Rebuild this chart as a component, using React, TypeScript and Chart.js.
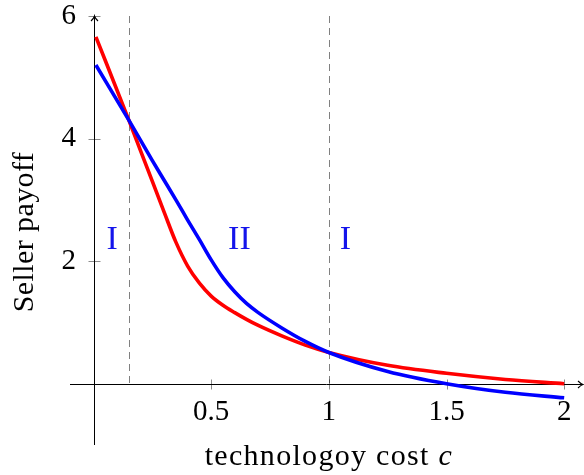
import React, { useEffect, useRef } from 'react';
import { Chart, registerables } from 'chart.js';

Chart.register(...registerables);

// ---- data ----
const costs = [0.01, 0.15, 0.2, 0.25, 0.3, 0.35, 0.4, 0.45, 0.5, 0.55, 0.6, 0.65, 0.7, 0.8, 0.9, 1.0, 1.25, 1.5, 1.75, 2.0];
const bluePayoff = [5.2, 4.3, 3.97, 3.64, 3.32, 3.0, 2.67, 2.35, 2.02, 1.73, 1.5, 1.31, 1.16, 0.91, 0.69, 0.51, 0.2, 0.0, -0.14, -0.23];
const redPayoff = [5.66, 4.3, 3.8, 3.3, 2.8, 2.31, 1.92, 1.64, 1.43, 1.28, 1.16, 1.05, 0.95, 0.78, 0.63, 0.51, 0.3, 0.17, 0.07, 0.0];
const xTicks = [0.5, 1, 1.5, 2];
const yTicks = [2, 4, 6];
const thresholds = [0.15, 1];
const regionLabels = ['I', 'II', 'I'];
const regionX = [0.079, 0.62, 1.07];
const regionY = 2.38;
const xTitle = 'technologoy cost ';
const xTitleVar = 'c';
const yTitle = 'Seller payoff';

const FONT = '"Liberation Serif", "Times New Roman", serif';

const decor = {
  id: 'decor',
  beforeDatasetsDraw(chart: any) {
    const { ctx, scales } = chart;
    const x = scales.x;
    const y = scales.y;
    const area = chart.chartArea;
    ctx.save();
    // dashed region separators
    ctx.strokeStyle = 'rgb(128,128,128)';
    ctx.lineWidth = 1;
    ctx.setLineDash([7, 5]);
    thresholds.forEach((t) => {
      const px = Math.round(x.getPixelForValue(t)) + 0.5;
      ctx.beginPath();
      ctx.moveTo(px, y.getPixelForValue(6));
      ctx.lineTo(px, y.getPixelForValue(0));
      ctx.stroke();
    });
    ctx.setLineDash([]);

    // tick marks
    ctx.strokeStyle = 'rgba(0,0,0,0.45)';
    const y0 = Math.round(y.getPixelForValue(0)) + 0.5;
    const x0 = Math.round(x.getPixelForValue(0)) + 0.5;
    xTicks.forEach((t) => {
      const px = Math.round(x.getPixelForValue(t)) + 0.5;
      ctx.beginPath();
      ctx.moveTo(px, y0 - 5);
      ctx.lineTo(px, y0 + 5);
      ctx.stroke();
    });
    yTicks.forEach((t) => {
      const py = Math.round(y.getPixelForValue(t)) + 0.5;
      ctx.beginPath();
      ctx.moveTo(x0 - 6, py);
      ctx.lineTo(x0 + 6, py);
      ctx.stroke();
    });

    // axis lines with arrows
    ctx.strokeStyle = '#000';
    ctx.lineWidth = 1;
    ctx.beginPath();
    ctx.moveTo(area.left, y0);
    ctx.lineTo(area.right, y0);
    ctx.moveTo(x0, area.bottom);
    ctx.lineTo(x0, area.top);
    ctx.stroke();
    ctx.lineWidth = 1.1;
    ctx.beginPath();
    ctx.moveTo(area.right - 5, y0 - 3.5);
    ctx.quadraticCurveTo(area.right - 2, y0 - 0.5, area.right, y0);
    ctx.quadraticCurveTo(area.right - 2, y0 + 0.5, area.right - 5, y0 + 3.5);
    ctx.moveTo(x0 - 3.5, area.top + 5);
    ctx.quadraticCurveTo(x0 - 0.5, area.top + 2, x0, area.top);
    ctx.quadraticCurveTo(x0 + 0.5, area.top + 2, x0 + 3.5, area.top + 5);
    ctx.stroke();
    ctx.restore();
  },
  afterDraw(chart: any) {
    const { ctx, scales } = chart;
    const x = scales.x;
    const y = scales.y;
    ctx.save();
    // region labels
    ctx.fillStyle = 'rgb(20,20,235)';
    ctx.font = `34px ${FONT}`;
    ctx.textAlign = 'center';
    ctx.textBaseline = 'alphabetic';
    regionLabels.forEach((lab, i) => {
      ctx.fillText(lab, x.getPixelForValue(regionX[i]), y.getPixelForValue(regionY) + 11.5);
    });

    // x title
    ctx.fillStyle = '#000';
    ctx.font = `30px ${FONT}`;
    (ctx as any).letterSpacing = '1.3px';
    const w1 = ctx.measureText(xTitle).width;
    ctx.font = `italic 30px ${FONT}`;
    const w2 = ctx.measureText(xTitleVar).width;
    const cx = x.getPixelForValue(1);
    const startX = cx - (w1 + w2) / 2;
    ctx.textAlign = 'left';
    ctx.font = `30px ${FONT}`;
    ctx.fillText(xTitle, startX, 465);
    ctx.font = `italic 30px ${FONT}`;
    ctx.fillText(xTitleVar, startX + w1, 465);

    // y title
    (ctx as any).letterSpacing = '0.4px';
    ctx.font = `30px ${FONT}`;
    ctx.translate(33, 232);
    ctx.rotate(-Math.PI / 2);
    ctx.textAlign = 'center';
    ctx.fillText(yTitle, 0, 0);
    ctx.restore();
  },
};

const noPadding = (s: any) => {
  s.paddingTop = 0;
  s.paddingBottom = 0;
  s.paddingLeft = 0;
  s.paddingRight = 0;
};

export default function App() {
  const ref = useRef<HTMLCanvasElement>(null);
  useEffect(() => {
    const chart = new Chart(ref.current as HTMLCanvasElement, {
      type: 'line',
      data: {
        datasets: [
          {
            data: costs.map((c, i) => ({ x: c, y: bluePayoff[i] })),
            borderColor: '#0000ff',
            borderWidth: 3.6,
            pointRadius: 0,
            cubicInterpolationMode: 'monotone',
            fill: false,
          },
          {
            data: costs.map((c, i) => ({ x: c, y: redPayoff[i] })),
            borderColor: '#ff0000',
            borderWidth: 3.6,
            pointRadius: 0,
            cubicInterpolationMode: 'monotone',
            fill: false,
          },
        ],
      },
      options: {
        animation: false,
        responsive: false,
        devicePixelRatio: 1,
        layout: { padding: { left: 70, right: 1, top: 16, bottom: 30 } },
        plugins: { legend: { display: false }, tooltip: { enabled: false } },
        scales: {
          x: {
            type: 'linear',
            min: -0.1,
            max: 2.08,
            position: { y: 0 } as any,
            grid: { display: false, drawTicks: false },
            border: { display: false },
            afterFit: noPadding,
            afterBuildTicks: (s: any) => {
              s.ticks = xTicks.map((v) => ({ value: v }));
            },
            ticks: {
              autoSkip: false,
              maxRotation: 0,
              padding: 11,
              color: '#000',
              font: { family: FONT, size: 29 },
              callback: (v: any) => String(v),
            },
          },
          y: {
            type: 'linear',
            min: -1,
            max: 6,
            // labels are right-aligned at this x position (just left of the axis line)
            position: { x: -0.075 } as any,
            grid: { display: false, drawTicks: false },
            border: { display: false },
            afterFit: noPadding,
            afterBuildTicks: (s: any) => {
              s.ticks = yTicks.map((v) => ({ value: v }));
            },
            ticks: {
              autoSkip: false,
              padding: 0,
              color: '#000',
              font: { family: FONT, size: 29 },
              callback: (v: any) => String(v),
            },
          },
        },
      },
      plugins: [decor],
    });
    return () => chart.destroy();
  }, []);
  return (
    <div style={{ position: 'absolute', left: 0, top: 0, width: 584, height: 475 }}>
      <canvas ref={ref} width={584} height={475} style={{ display: 'block', width: 584, height: 475 }} />
    </div>
  );
}
